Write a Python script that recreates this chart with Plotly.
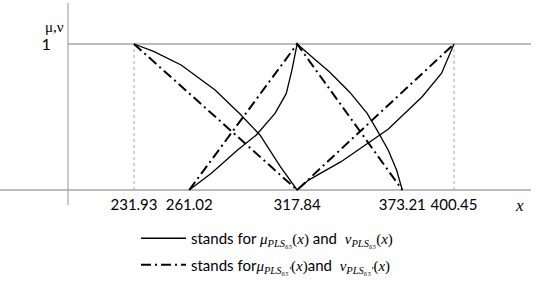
import plotly.graph_objects as go

# ---- data ----
tick_vals = [231.93, 261.02, 317.84, 373.21, 400.45]
tick_text = ["231.93", "261.02", "317.84", "373.21", "400.45"]

# PLS65 (solid, curved)
mu_x = [261.02, 272.67, 286.48, 296.36, 306.19, 312.10, 315.06, 317.04, 317.84,
        324.48, 334.78, 345.53, 354.72, 359.92, 365.79, 370.22, 373.21]
mu_y = [0.0, 0.114, 0.274, 0.377, 0.525, 0.66, 0.82, 0.96, 1.0,
        0.925, 0.81, 0.67, 0.525, 0.41, 0.274, 0.137, 0.0]
nu_x = [231.93, 242.24, 256.76, 274.63, 287.77, 298.25, 309.00, 314.40, 317.84,
        323.87, 340.97, 365.75, 383.68, 393.92, 400.45]
nu_y = [1.0, 0.95, 0.856, 0.685, 0.52, 0.377, 0.16, 0.06, 0.0,
        0.068, 0.194, 0.416, 0.639, 0.80, 1.0]

# PLS65' (dash-dot, triangular)
mu2_x = [261.02, 317.84, 373.21]
mu2_y = [0.0, 1.0, 0.0]
nu2_x = [231.93, 317.84, 400.45]
nu2_y = [1.0, 0.0, 1.0]

W, H = 550, 282
B = 85
PH = H - B
GRAY = "#a6a6a6"
DASHDOT = "10px,4px,2px,4px"

SER = "<span style=\"font-family:'Liberation Serif',serif\">"
E = "</span>"
lab1 = ("stands for " + SER + "<i>μ<sub>PLS₆₅</sub></i>(<i>x</i>)" + E + " and  "
        + SER + "<i>ν<sub>PLS₆₅</sub></i>(<i>x</i>)" + E)
lab2 = ("stands for" + SER + "<i>μ<sub>PLS₆₅′</sub></i>(<i>x</i>)" + E + "and  "
        + SER + "<i>ν<sub>PLS₆₅′</sub></i>(<i>x</i>)" + E)

fig = go.Figure()
fig.add_trace(go.Scatter(x=mu_x, y=mu_y, mode="lines", name=lab1, legendgroup="a",
                         line=dict(color="black", width=1.3), cliponaxis=False))
fig.add_trace(go.Scatter(x=nu_x, y=nu_y, mode="lines", name=lab1, legendgroup="a",
                         showlegend=False, line=dict(color="black", width=1.3), cliponaxis=False))
fig.add_trace(go.Scatter(x=mu2_x, y=mu2_y, mode="lines", name=lab2, legendgroup="b",
                         line=dict(color="black", width=2, dash=DASHDOT), cliponaxis=False))
fig.add_trace(go.Scatter(x=nu2_x, y=nu2_y, mode="lines", name=lab2, legendgroup="b",
                         showlegend=False, line=dict(color="black", width=2, dash=DASHDOT),
                         cliponaxis=False))

scale = 320 / (400.45 - 231.93)
x0 = 231.93 - 134 / scale
x1 = x0 + W / scale
py = 146.0

shapes = [
    dict(type="line", xref="paper", yref="y", x0=0, x1=531 / W, y0=0, y1=0,
         line=dict(color=GRAY, width=1.5), layer="below"),
    dict(type="line", xref="paper", yref="y", x0=68 / W, x1=531 / W, y0=1, y1=1,
         line=dict(color=GRAY, width=1.5), layer="below"),
    dict(type="line", xref="paper", yref="paper", x0=68 / W, x1=68 / W,
         y0=1 - 3 / PH, y1=1 - 205 / PH, line=dict(color=GRAY, width=1.2), layer="below"),
]
for v in (tick_vals[0], tick_vals[-1]):
    shapes.append(dict(type="line", xref="x", yref="y", x0=v, x1=v, y0=0, y1=1,
                       line=dict(color=GRAY, width=1, dash="dot"), layer="below"))

fig.update_layout(
    width=W, height=H,
    margin=dict(l=0, r=0, t=0, b=B, autoexpand=False),
    plot_bgcolor="white", paper_bgcolor="white",
    font=dict(family="Lato, sans-serif", size=15, color="black"),
    showlegend=True,
    legend=dict(x=136 / W, y=1 - 222 / PH, xanchor="left", yanchor="top",
                bgcolor="rgba(0,0,0,0)", tracegroupgap=4, itemwidth=45,
                font=dict(family="Lato, sans-serif", size=15)),
    shapes=shapes,
    xaxis=dict(range=[x0, x1], tickvals=tick_vals, ticktext=tick_text,
               showgrid=False, zeroline=False, showline=False, ticks="",
               ticklabelstandoff=-3),
    yaxis=dict(range=[-(PH - 190) / py, 190 / py], tickvals=[1], ticktext=["1"],
               anchor="free", position=68 / W, side="left",
               showgrid=False, zeroline=False, showline=False,
               ticks="outside", ticklen=14, tickcolor="rgba(0,0,0,0)",
               tickfont=dict(family="Lato, sans-serif", size=16)),
    annotations=[
        dict(text="μ,ν", xref="paper", yref="paper", x=43 / W, y=1 - 17 / PH,
             showarrow=False, font=dict(family="Liberation Serif, serif", size=15)),
        dict(text="<i>x</i>", xref="paper", yref="paper", x=519 / W, y=1 - 205 / PH,
             xanchor="center", yanchor="middle", yshift=-1,
             showarrow=False, font=dict(family="Liberation Serif, serif", size=17)),
    ],
)

fig.write_html("out.html", config={"displayModeBar": False},
               post_script="document.body.style.margin='0';document.body.style.overflow='hidden';")
